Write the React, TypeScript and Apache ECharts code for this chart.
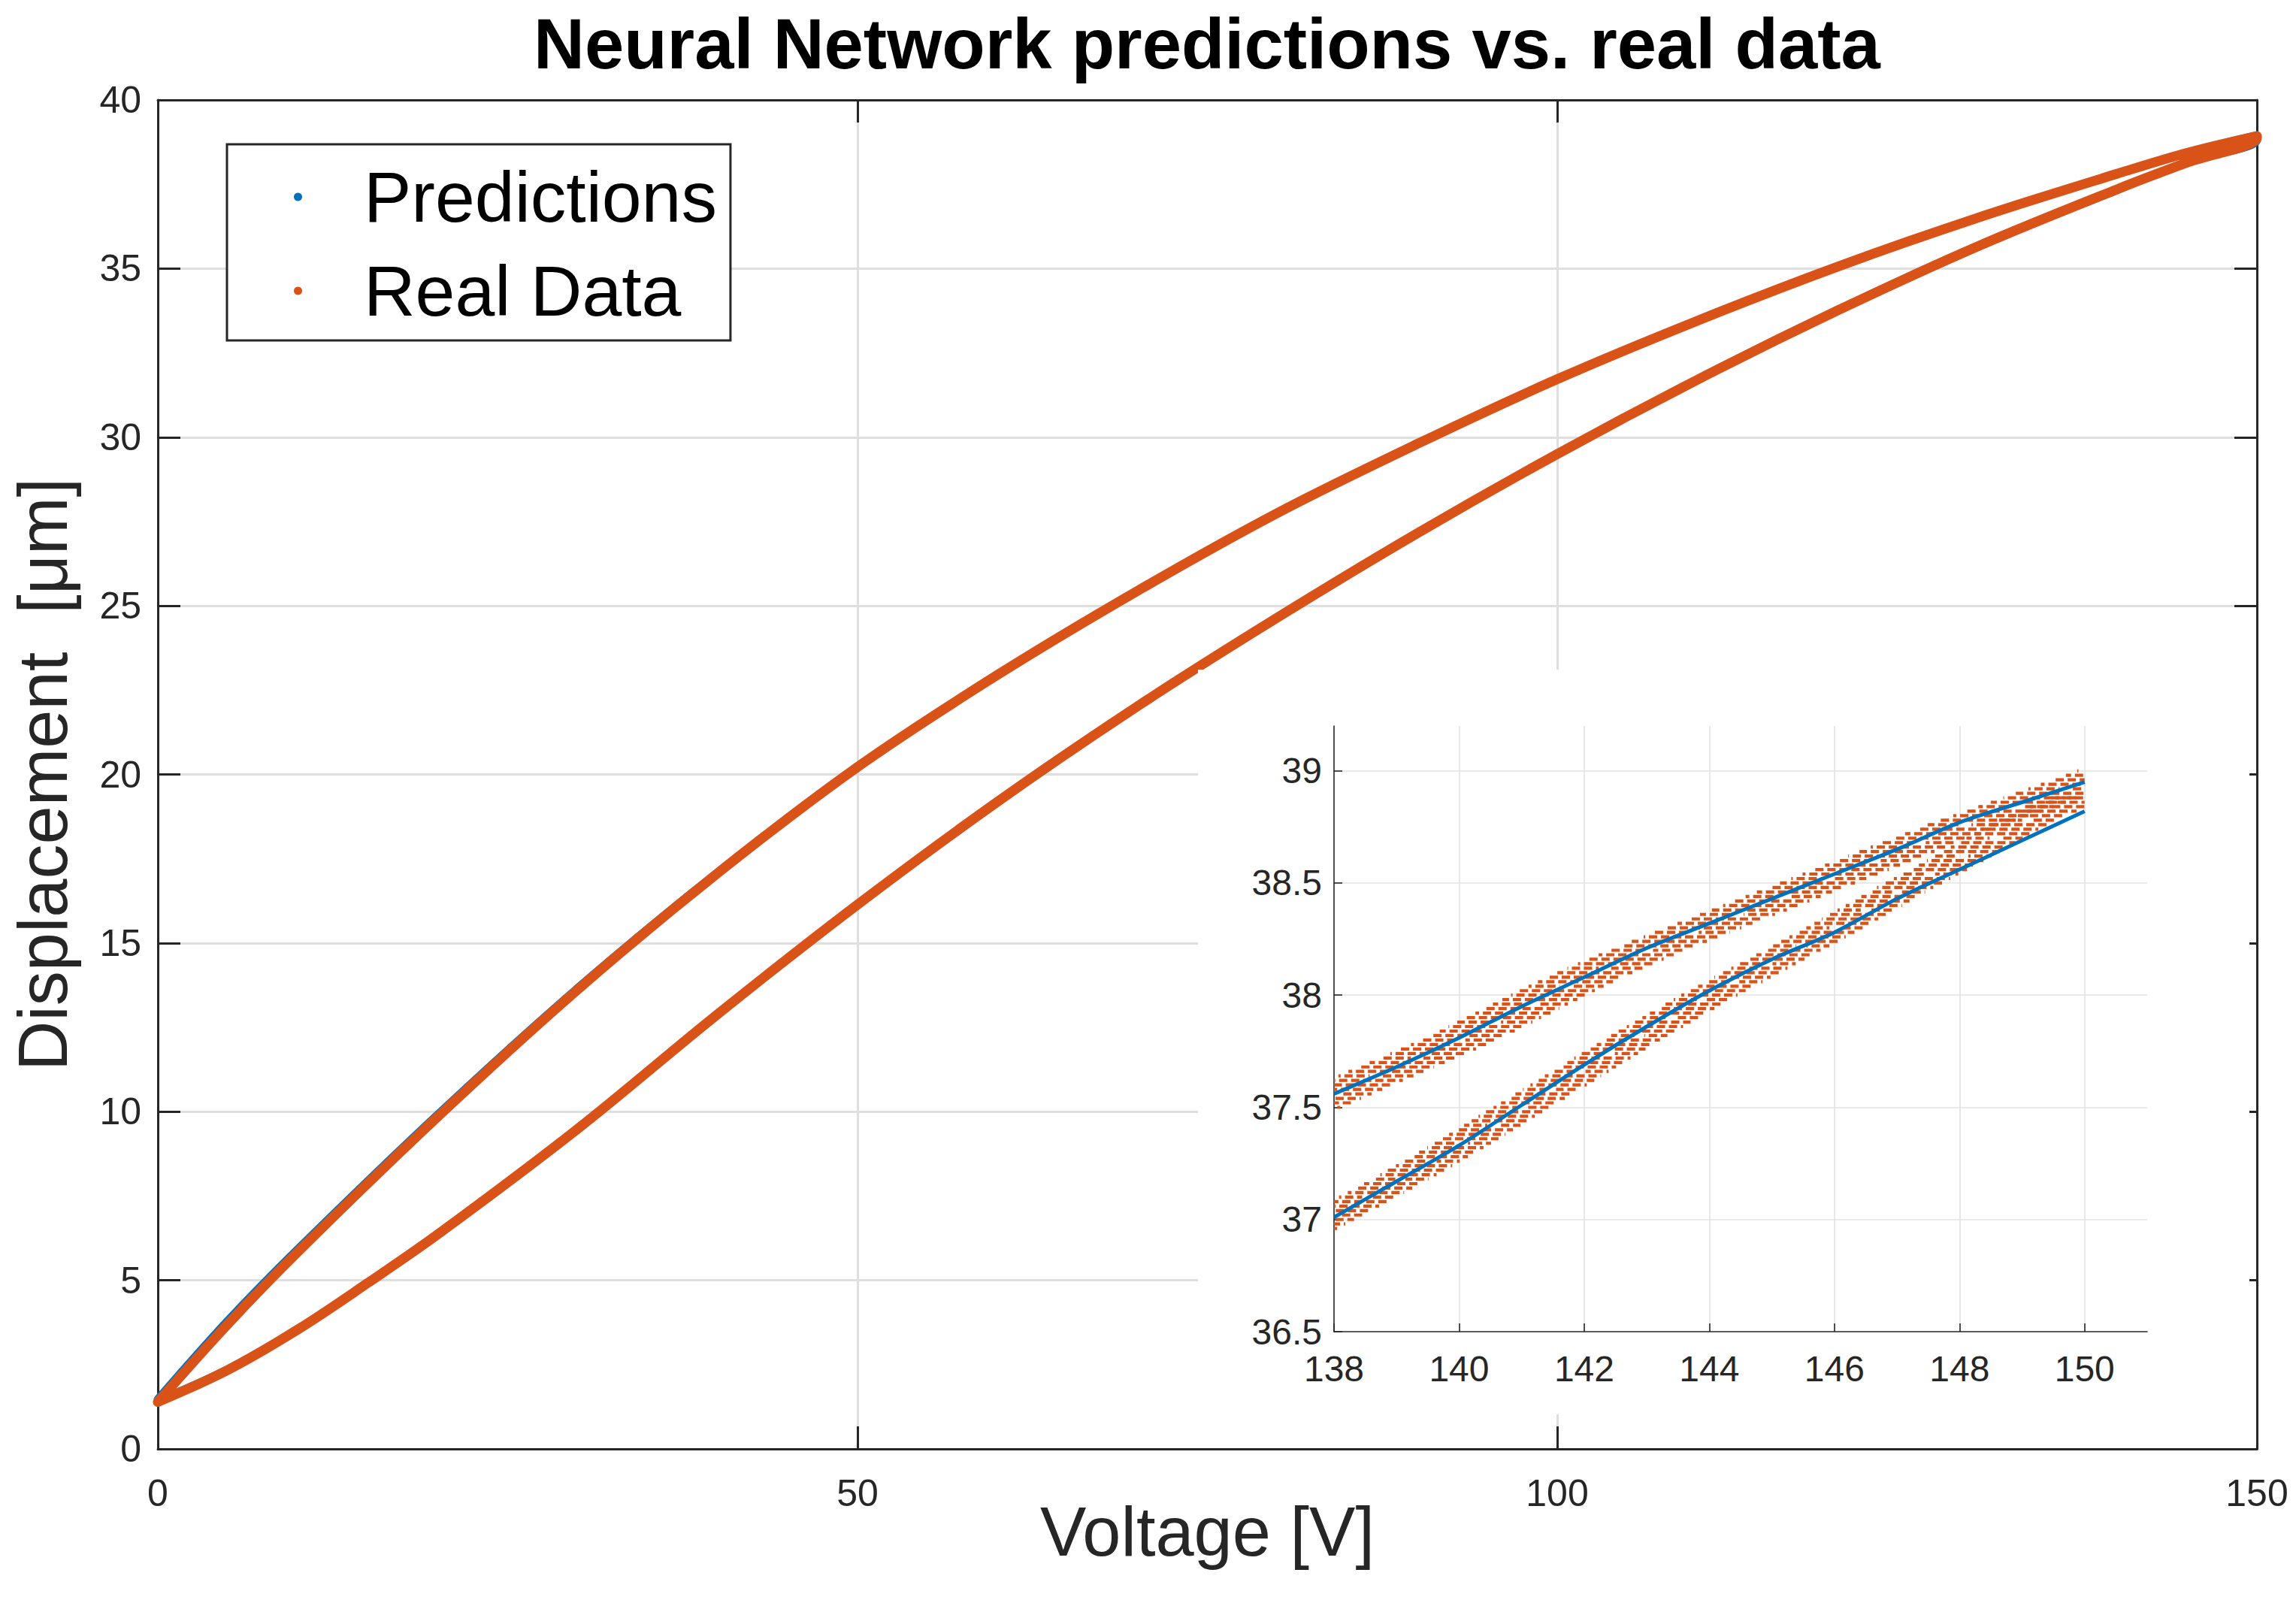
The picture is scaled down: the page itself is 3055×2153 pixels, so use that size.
import React, { useEffect, useRef } from "react";
import * as echarts from "echarts";

// ---------- data ----------
const titleText = "Neural Network predictions vs. real data";
const xAxisTitle = "Voltage [V]";
const yAxisTitle = "Displacement  [\u03bcm]";
const seriesNames = ["Predictions", "Real Data"];

const mainXTicks = [0, 50, 100, 150];
const mainYTicks = [0, 5, 10, 15, 20, 25, 30, 35, 40];
const insetXTicks = [138, 140, 142, 144, 146, 148, 150];
const insetXMax = 151;
const insetYTicks = [36.5, 37, 37.5, 38, 38.5, 39];
const insetYMax = 39.2;

// main plot: rising branch (voltage increasing)
const realLower = [
  [0, 1.39], [5, 2.34], [10, 3.54], [15, 4.92], [20, 6.36], [30, 9.49],
  [40, 12.89], [50, 16.14], [60, 19.19], [70, 22.02], [80, 24.65],
  [90, 27.15], [100, 29.5], [110, 31.7], [120, 33.75], [130, 35.65],
  [140, 37.35], [145, 38.14], [150, 38.88],
];
// main plot: falling branch (voltage decreasing)
const realUpper = [
  [150, 38.93], [145, 38.43], [140, 37.81], [130, 36.5], [120, 35.05],
  [110, 33.45], [100, 31.72], [90, 29.8], [80, 27.75], [70, 25.44],
  [60, 22.95], [50, 20.22], [40, 17.07], [30, 13.62], [20, 9.85],
  [10, 5.84], [5, 3.7], [0, 1.39],
];
const predLower = [
  [0, 1.42], [5, 2.36], [10, 3.55], [15, 4.92], [20, 6.35], [30, 9.48],
  [40, 12.88], [50, 16.13], [60, 19.18], [70, 22.01], [80, 24.64],
  [90, 27.14], [100, 29.5], [110, 31.7], [120, 33.76], [130, 35.66],
  [140, 37.33], [145, 38.16], [150, 38.82],
];
const predUpper = [
  [150, 38.95], [145, 38.43], [140, 37.81], [130, 36.5], [120, 35.05],
  [110, 33.45], [100, 31.72], [90, 29.8], [80, 27.75], [70, 25.44],
  [60, 22.95], [50, 20.23], [40, 17.09], [30, 13.66], [20, 9.91],
  [10, 5.92], [5, 3.8], [0, 1.47],
];

// inset: predictions
const insetPredLower = [
  [138, 37.01], [139, 37.17], [140, 37.33], [141, 37.51], [142, 37.69],
  [143, 37.86], [144, 38.02], [145, 38.16], [146, 38.28], [147, 38.43],
  [148, 38.56], [149, 38.69], [150, 38.82],
];
const insetPredUpper = [
  [150, 38.95], [149, 38.86], [148, 38.77], [147, 38.65], [146, 38.54],
  [145, 38.43], [144, 38.32], [143, 38.21], [142, 38.08], [141, 37.95],
  [140, 37.81], [139, 37.68], [138, 37.56],
];

// inset: measured samples as runs at one quantised level [V from, V to, displacement]
const insetRealUpperRuns = [
  [136.9, 138.1, 37.5], [137.07, 138.27, 37.52], [137.23, 138.43, 37.54],
  [137.4, 137.9, 37.56], [138.1, 138.6, 37.56], [137.57, 138.77, 37.58], [137.73, 138.93, 37.6],
  [137.9, 139.1, 37.62], [138.07, 138.57, 37.64], [138.77, 139.27, 37.64], [138.23, 139.43, 37.66],
  [138.4, 139.6, 37.68], [138.57, 139.77, 37.7], [138.73, 139.23, 37.72], [139.43, 139.93, 37.72],
  [138.9, 140.1, 37.74], [139.07, 140.27, 37.76], [139.23, 140.43, 37.78], [139.4, 139.9, 37.8],
  [140.1, 140.6, 37.8], [139.54, 140.74, 37.82], [139.69, 140.89, 37.84], [139.83, 141.03, 37.86],
  [139.97, 140.47, 37.88], [140.67, 141.17, 37.88], [140.11, 141.31, 37.9], [140.26, 141.46, 37.92],
  [140.4, 141.6, 37.94], [140.54, 141.04, 37.96], [141.24, 141.74, 37.96], [140.69, 141.89, 37.98],
  [140.83, 142.03, 38.0], [140.97, 142.17, 38.02], [141.11, 141.61, 38.04], [141.81, 142.31, 38.04],
  [141.26, 142.46, 38.06], [141.4, 142.6, 38.08], [141.57, 142.77, 38.1], [141.73, 142.23, 38.12],
  [142.43, 142.93, 38.12], [141.9, 143.1, 38.14], [142.07, 143.27, 38.16], [142.23, 143.43, 38.18],
  [142.4, 142.9, 38.2], [143.1, 143.6, 38.2], [142.58, 143.78, 38.22], [142.76, 143.96, 38.24],
  [142.95, 144.15, 38.26], [143.13, 143.63, 38.28], [143.83, 144.33, 38.28], [143.31, 144.51, 38.3],
  [143.49, 144.69, 38.32], [143.67, 144.87, 38.34], [143.85, 144.35, 38.36], [144.55, 145.05, 38.36],
  [144.04, 145.24, 38.38], [144.22, 145.42, 38.4], [144.4, 145.6, 38.42], [144.58, 145.08, 38.44],
  [145.28, 145.78, 38.44], [144.76, 145.96, 38.46], [144.95, 146.15, 38.48], [145.13, 146.33, 38.5],
  [145.31, 145.81, 38.52], [146.01, 146.51, 38.52], [145.49, 146.69, 38.54], [145.67, 146.87, 38.56],
  [145.85, 147.05, 38.58], [146.04, 146.54, 38.6], [146.74, 147.24, 38.6], [146.22, 147.42, 38.62],
  [146.4, 147.6, 38.64], [146.58, 147.78, 38.66], [146.76, 147.26, 38.68], [147.46, 147.96, 38.68],
  [146.95, 148.15, 38.7], [147.13, 148.33, 38.72], [147.31, 148.51, 38.74], [147.49, 147.99, 38.76],
  [148.19, 148.69, 38.76], [147.7, 148.9, 38.78], [147.9, 149.1, 38.8], [148.1, 149.3, 38.82],
  [148.3, 148.8, 38.84], [149.0, 149.5, 38.84], [148.5, 149.7, 38.86], [148.7, 149.9, 38.88],
  [148.9, 150.0, 38.9], [149.1, 149.6, 38.92], [149.8, 150.0, 38.92], [149.3, 150.0, 38.94],
  [149.5, 150.0, 38.96], [149.7, 150.0, 38.98], [149.82, 149.9, 39.0],
];
const insetRealLowerRuns = [
  [137.15, 138.05, 36.96], [137.28, 138.18, 36.98], [137.42, 138.32, 37.0],
  [137.55, 137.92, 37.02], [138.08, 138.45, 37.02], [137.68, 138.58, 37.04], [137.82, 138.72, 37.06],
  [137.95, 138.85, 37.08], [138.08, 138.45, 37.1], [138.61, 138.98, 37.1], [138.22, 139.12, 37.12],
  [138.35, 139.25, 37.14], [138.48, 139.38, 37.16], [138.61, 138.98, 37.18], [139.14, 139.51, 37.18],
  [138.74, 139.64, 37.2], [138.86, 139.76, 37.22], [138.99, 139.89, 37.24], [139.11, 139.48, 37.26],
  [139.64, 140.01, 37.26], [139.24, 140.14, 37.28], [139.36, 140.26, 37.3], [139.49, 140.39, 37.32],
  [139.61, 139.98, 37.34], [140.14, 140.51, 37.34], [139.73, 140.63, 37.36], [139.84, 140.74, 37.38],
  [139.96, 140.86, 37.4], [140.08, 140.45, 37.42], [140.61, 140.98, 37.42], [140.2, 141.1, 37.44],
  [140.31, 141.21, 37.46], [140.43, 141.33, 37.48], [140.55, 140.92, 37.5], [141.08, 141.45, 37.5],
  [140.67, 141.57, 37.52], [140.79, 141.69, 37.54], [140.9, 141.8, 37.56], [141.02, 141.39, 37.58],
  [141.55, 141.92, 37.58], [141.14, 142.04, 37.6], [141.26, 142.16, 37.62], [141.37, 142.27, 37.64],
  [141.49, 141.86, 37.66], [142.02, 142.39, 37.66], [141.61, 142.51, 37.68], [141.73, 142.63, 37.7],
  [141.84, 142.74, 37.72], [141.96, 142.33, 37.74], [142.49, 142.86, 37.74], [142.08, 142.98, 37.76],
  [142.2, 143.1, 37.78], [142.31, 143.21, 37.8], [142.43, 142.8, 37.82], [142.96, 143.33, 37.82],
  [142.55, 143.45, 37.84], [142.68, 143.58, 37.86], [142.8, 143.7, 37.88], [142.93, 143.3, 37.9],
  [143.46, 143.83, 37.9], [143.05, 143.95, 37.92], [143.18, 144.08, 37.94], [143.3, 144.2, 37.96],
  [143.43, 143.8, 37.98], [143.96, 144.33, 37.98], [143.55, 144.45, 38.0], [143.68, 144.58, 38.02],
  [143.82, 144.72, 38.04], [143.95, 144.32, 38.06], [144.48, 144.85, 38.06], [144.08, 144.98, 38.08],
  [144.22, 145.12, 38.1], [144.35, 145.25, 38.12], [144.48, 144.85, 38.14], [145.01, 145.38, 38.14],
  [144.62, 145.52, 38.16], [144.75, 145.65, 38.18], [144.88, 145.78, 38.2], [145.02, 145.39, 38.22],
  [145.55, 145.92, 38.22], [145.15, 146.05, 38.24], [145.28, 146.18, 38.26], [145.42, 146.32, 38.28],
  [145.55, 145.92, 38.3], [146.08, 146.45, 38.3], [145.68, 146.58, 38.32], [145.8, 146.7, 38.34],
  [145.93, 146.83, 38.36], [146.05, 146.42, 38.38], [146.58, 146.95, 38.38], [146.18, 147.08, 38.4],
  [146.3, 147.2, 38.42], [146.43, 147.33, 38.44], [146.55, 146.92, 38.46], [147.08, 147.45, 38.46],
  [146.68, 147.58, 38.48], [146.82, 147.72, 38.5], [146.95, 147.85, 38.52], [147.08, 147.45, 38.54],
  [147.61, 147.98, 38.54], [147.22, 148.12, 38.56], [147.35, 148.25, 38.58], [147.48, 148.38, 38.6],
  [147.61, 147.98, 38.62], [148.14, 148.51, 38.62], [147.74, 148.64, 38.64], [147.86, 148.76, 38.66],
  [147.99, 148.89, 38.68], [148.11, 148.48, 38.7], [148.64, 149.01, 38.7], [148.24, 149.14, 38.72],
  [148.36, 149.26, 38.74], [148.49, 149.39, 38.76], [148.63, 149.0, 38.78], [149.16, 149.53, 38.78],
  [148.8, 149.7, 38.8], [148.97, 149.87, 38.82], [149.13, 150.0, 38.84], [149.3, 150.0, 38.86],
  [149.47, 150.0, 38.88],
];

// ---------- styling ----------
const FONT = "'Liberation Sans', Arial, Helvetica, sans-serif";
const AX = "#262626";
const GRID = "#dfdfdf";
const BLUE = "#0072BD";
const ORANGE = "#D95319";

export default function App() {
  const ref = useRef<HTMLDivElement>(null);

  useEffect(() => {
    if (!ref.current) return;
    const chart = echarts.init(ref.current, undefined, { renderer: "svg" });

    const runRender = (params: any, api: any) => {
      const a = api.coord([api.value(0), api.value(2)]);
      const b = api.coord([api.value(1), api.value(2)]);
      return {
        type: "line",
        shape: { x1: a[0], y1: a[1], x2: b[0], y2: b[1] },
        style: {
          stroke: ORANGE,
          lineWidth: 4.2,
          lineDash: [11, 5],
          lineDashOffset: (params.dataIndex * 7) % 16,
        },
      };
    };

    const mainAxisCommon = {
      axisLine: { show: true, onZero: false, lineStyle: { color: AX, width: 3 } },
      axisTick: { show: true, inside: true, length: 30, lineStyle: { color: AX, width: 3 } },
    };

    const option: any = {
      animation: false,
      backgroundColor: "#ffffff",
      title: {
        text: titleText,
        left: 710,
        top: 11,
        padding: 0,
        textStyle: { fontSize: 94, fontWeight: "bold", color: "#000", fontFamily: FONT },
      },
      legend: {
        data: seriesNames.map((n) => ({ name: n, icon: "circle" })),
        orient: "vertical",
        left: 302,
        top: 192,
        padding: [18, 18, 14, 89],
        itemWidth: 11,
        itemHeight: 11,
        itemGap: 21,
        backgroundColor: "#ffffff",
        borderColor: AX,
        borderWidth: 3,
        selectedMode: false,
        itemStyle: { borderWidth: 0 },
        textStyle: { fontSize: 95, lineHeight: 104, color: "#000", fontFamily: FONT, padding: [0, 0, 0, 77] },
      },
      graphic: {
        elements: [
          { type: "rect", z: 5, shape: { x: 1594, y: 891, width: 1399, height: 991 }, style: { fill: "#ffffff" } },
        ],
      },
      grid: [
        { left: 210, top: 133, width: 2793, height: 1795 },
        { left: 1775, top: 966, width: 1082, height: 806 },
      ],
      xAxis: [
        {
          gridIndex: 0, type: "value", position: "bottom",
          min: mainXTicks[0], max: mainXTicks[mainXTicks.length - 1], interval: mainXTicks[1] - mainXTicks[0],
          ...mainAxisCommon,
          axisLabel: { margin: 34, fontSize: 50, color: AX, fontFamily: FONT },
          splitLine: { show: true, lineStyle: { color: GRID, width: 3 } },
          name: xAxisTitle, nameLocation: "middle", nameGap: 64, nameMoveOverlap: false,
          nameTextStyle: { fontSize: 92, color: AX, fontFamily: FONT },
        },
        {
          gridIndex: 0, type: "value", position: "top",
          min: mainXTicks[0], max: mainXTicks[mainXTicks.length - 1], interval: mainXTicks[1] - mainXTicks[0],
          ...mainAxisCommon,
          axisLabel: { show: false }, splitLine: { show: false },
        },
        {
          gridIndex: 1, type: "value", position: "bottom", z: 6,
          min: insetXTicks[0], max: insetXMax, interval: insetXTicks[1] - insetXTicks[0],
          axisLine: { show: true, onZero: false, lineStyle: { color: AX, width: 1.6 } },
          axisTick: { show: true, inside: true, length: 11, lineStyle: { color: AX, width: 1.6 } },
          axisLabel: { margin: 25, fontSize: 48, color: AX, fontFamily: FONT, showMaxLabel: false },
          splitLine: { show: true, showMaxLine: false, showMinLine: false, lineStyle: { color: "#e3e3e3", width: 1.6 } },
        },
      ],
      yAxis: [
        {
          gridIndex: 0, type: "value", position: "left",
          min: mainYTicks[0], max: mainYTicks[mainYTicks.length - 1], interval: mainYTicks[1] - mainYTicks[0],
          ...mainAxisCommon,
          axisLabel: { margin: 22, fontSize: 50, color: AX, fontFamily: FONT },
          splitLine: { show: true, lineStyle: { color: GRID, width: 3 } },
          name: yAxisTitle, nameLocation: "middle", nameGap: 107,
          nameTextStyle: { fontSize: 92, color: AX, fontFamily: FONT },
        },
        {
          gridIndex: 0, type: "value", position: "right",
          min: mainYTicks[0], max: mainYTicks[mainYTicks.length - 1], interval: mainYTicks[1] - mainYTicks[0],
          ...mainAxisCommon,
          axisLabel: { show: false }, splitLine: { show: false },
        },
        {
          gridIndex: 1, type: "value", position: "left", z: 6,
          min: insetYTicks[0], max: insetYMax, interval: insetYTicks[1] - insetYTicks[0],
          axisLine: { show: true, onZero: false, lineStyle: { color: AX, width: 1.6 } },
          axisTick: { show: true, inside: true, length: 11, lineStyle: { color: AX, width: 1.6 } },
          axisLabel: { margin: 16, fontSize: 48, color: AX, fontFamily: FONT, showMaxLabel: false },
          splitLine: { show: true, showMaxLine: false, showMinLine: false, lineStyle: { color: "#e3e3e3", width: 1.6 } },
        },
      ],
      series: [
        {
          name: seriesNames[0], type: "line", xAxisIndex: 0, yAxisIndex: 0, z: 2,
          data: [...predLower, ...predUpper], showSymbol: false, smooth: 0.35, clip: false,
          itemStyle: { color: BLUE },
          lineStyle: { color: BLUE, width: 11, cap: "round", join: "round" },
        },
        {
          name: seriesNames[1], type: "line", xAxisIndex: 0, yAxisIndex: 0, z: 3,
          data: [...realLower, ...realUpper], showSymbol: false, smooth: 0.35, clip: false,
          itemStyle: { color: ORANGE },
          lineStyle: { color: ORANGE, width: 13, cap: "round", join: "round" },
        },
        {
          name: seriesNames[1], type: "custom", xAxisIndex: 2, yAxisIndex: 2, z: 7,
          clip: true, encode: { x: [0, 1], y: 2 },
          data: insetRealUpperRuns, renderItem: runRender, itemStyle: { color: ORANGE },
        },
        {
          name: seriesNames[1], type: "custom", xAxisIndex: 2, yAxisIndex: 2, z: 7,
          clip: true, encode: { x: [0, 1], y: 2 },
          data: insetRealLowerRuns, renderItem: runRender, itemStyle: { color: ORANGE },
        },
        {
          name: seriesNames[0], type: "line", xAxisIndex: 2, yAxisIndex: 2, z: 8,
          data: insetPredLower, showSymbol: false, smooth: 0.3,
          itemStyle: { color: BLUE }, lineStyle: { color: BLUE, width: 5 },
        },
        {
          name: seriesNames[0], type: "line", xAxisIndex: 2, yAxisIndex: 2, z: 8,
          data: insetPredUpper, showSymbol: false, smooth: 0.3,
          itemStyle: { color: BLUE }, lineStyle: { color: BLUE, width: 5 },
        },
      ],
    };

    chart.setOption(option);
    return () => chart.dispose();
  }, []);

  return (
    <div
      ref={ref}
      style={{ position: "fixed", left: 0, top: 0, width: "3055px", height: "2153px", background: "#fff" }}
    />
  );
}
